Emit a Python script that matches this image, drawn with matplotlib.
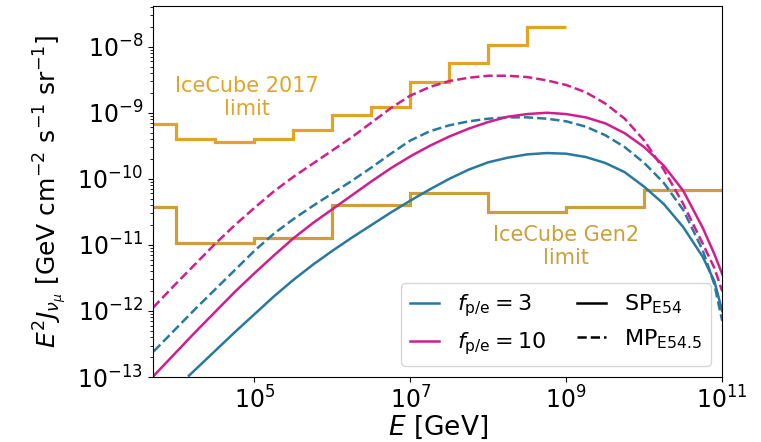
import numpy as np
import matplotlib
matplotlib.use("Agg")
import matplotlib.pyplot as plt
from matplotlib.lines import Line2D
from matplotlib.ticker import FixedLocator, NullLocator

# IceCube limits (step functions), bin edges in GeV
ic2017_edges = 10 ** np.arange(3.5, 9.01, 0.5)
ic2017_vals = [6.8e-10, 4.0e-10, 3.55e-10, 4.0e-10, 5.5e-10, 9.2e-10,
               1.23e-9, 2.9e-9, 5.6e-9, 1.07e-8, 2.0e-8]

gen2_edges = [1e3, 1e4, 1e5, 1e6, 1e7, 1e8, 1e9, 1e10, 1e12]
gen2_vals = [3.7e-11, 1.08e-11, 1.26e-11, 4.0e-11, 6.2e-11, 3.1e-11, 3.7e-11, 6.8e-11]

# model curves as (log10 E, log10 E^2 J)
f3_sp_logE = [4.16, 4.25, 4.5, 4.75, 5.0, 5.25, 5.5, 5.75, 6.0, 6.25, 6.5, 6.75, 7.0, 7.25, 7.5, 7.75,
              8.0, 8.25, 8.5, 8.75, 9.0, 9.25, 9.5, 9.75, 10.0, 10.25, 10.5, 10.75, 10.9, 11.0]
f3_sp_logJ = [-12.98, -12.88, -12.60, -12.32, -12.05, -11.78, -11.53, -11.30, -11.09, -10.89, -10.70,
              -10.51, -10.33, -10.16, -10.00, -9.86, -9.75, -9.68, -9.63, -9.61, -9.62, -9.67, -9.76,
              -9.90, -10.12, -10.38, -10.73, -11.18, -11.55, -12.0]

f3_mp_logE = [3.71, 4.0, 4.25, 4.5, 4.75, 5.0, 5.25, 5.5, 5.75, 6.0, 6.25, 6.5, 6.75, 7.0, 7.25, 7.5, 7.75,
              8.0, 8.25, 8.5, 8.75, 9.0, 9.25, 9.5, 9.75, 10.0, 10.25, 10.5, 10.75, 10.9, 11.0]
f3_mp_logJ = [-12.61, -12.26, -11.96, -11.67, -11.38, -11.09, -10.83, -10.61, -10.41, -10.22, -10.03,
              -9.83, -9.62, -9.42, -9.28, -9.19, -9.13, -9.09, -9.07, -9.07, -9.09, -9.13, -9.21, -9.34,
              -9.52, -9.76, -10.06, -10.47, -11.08, -11.6, -12.15]

f10_sp_logE = [3.71, 4.0, 4.25, 4.5, 4.75, 5.0, 5.25, 5.5, 5.75, 6.0, 6.25, 6.5, 6.75, 7.0, 7.25, 7.5, 7.75,
               8.0, 8.25, 8.5, 8.75, 9.0, 9.25, 9.5, 9.75, 10.0, 10.25, 10.5, 10.75, 10.9, 11.0]
f10_sp_logJ = [-12.98, -12.62, -12.31, -12.01, -11.71, -11.43, -11.16, -10.90, -10.67, -10.46, -10.25,
               -10.04, -9.84, -9.66, -9.50, -9.36, -9.24, -9.14, -9.06, -9.02, -9.00, -9.02, -9.07,
               -9.16, -9.31, -9.52, -9.80, -10.18, -10.74, -11.14, -11.44]

f10_mp_logE = [3.70, 4.0, 4.25, 4.5, 4.75, 5.0, 5.25, 5.5, 5.75, 6.0, 6.25, 6.5, 6.75, 7.0, 7.25, 7.5, 7.75,
               8.0, 8.25, 8.5, 8.75, 9.0, 9.25, 9.5, 9.75, 10.0, 10.25, 10.5, 10.75, 10.9, 11.0]
f10_mp_logJ = [-11.95, -11.58, -11.28, -10.98, -10.70, -10.44, -10.19, -9.97, -9.77, -9.57, -9.37,
               -9.15, -8.93, -8.74, -8.61, -8.52, -8.47, -8.44, -8.44, -8.46, -8.51, -8.58, -8.69,
               -8.86, -9.09, -9.42, -9.86, -10.38, -10.98, -11.35, -11.70]

xticks = [1e5, 1e7, 1e9, 1e11]
yticks = [1e-13, 1e-12, 1e-11, 1e-10, 1e-9, 1e-8]

c_blue = '#2878A0'
c_mag = '#D01E8C'
c_2017 = '#E0A526'
c_gen2 = '#CB9F3B'

fig, ax = plt.subplots(figsize=(7.61, 4.42), dpi=100)
fig.subplots_adjust(left=0.201, right=0.949, top=0.986, bottom=0.147)

ax.stairs(ic2017_vals, ic2017_edges, baseline=None, color=c_2017, lw=2.3)
ax.stairs(gen2_vals, gen2_edges, baseline=None, color=c_gen2, lw=2.3)

ax.plot(10 ** np.array(f3_sp_logE), 10 ** np.array(f3_sp_logJ), color=c_blue, lw=1.8)
ax.plot(10 ** np.array(f3_mp_logE), 10 ** np.array(f3_mp_logJ), color=c_blue, lw=1.8, ls='--')
ax.plot(10 ** np.array(f10_sp_logE), 10 ** np.array(f10_sp_logJ), color=c_mag, lw=1.8)
ax.plot(10 ** np.array(f10_mp_logE), 10 ** np.array(f10_mp_logJ), color=c_mag, lw=1.8, ls='--')

ax.text(10 ** 4.90, 10 ** -8.77, 'IceCube 2017\nlimit', color=c_2017, fontsize=15,
        ha='center', va='center', multialignment='center')
ax.text(10 ** 9.0, 10 ** -11.02, 'IceCube Gen2\nlimit', color=c_gen2, fontsize=15,
        ha='center', va='center', multialignment='center')

ax.set_xscale('log')
ax.set_yscale('log')
ax.set_xlim(5e3, 1e11)
ax.set_ylim(1e-13, 4.1e-8)
ax.set_xticks(xticks)
ax.set_yticks(yticks)
ax.xaxis.set_minor_locator(NullLocator())
minor_y = [m * 10.0 ** k for k in range(-13, -7) for m in range(2, 10)]
ax.yaxis.set_minor_locator(FixedLocator(minor_y))
ax.tick_params(labelsize=17)

ax.set_xlabel(r'$E$ [GeV]', fontsize=19, labelpad=0)
ax.set_ylabel(r'$E^2 J_{\nu_\mu}$ [GeV cm$^{-2}$ s$^{-1}$ sr$^{-1}$]', fontsize=18, labelpad=6)

handles = [
    Line2D([], [], color=c_blue, lw=1.8),
    Line2D([], [], color=c_mag, lw=1.8),
    Line2D([], [], color='k', lw=1.8),
    Line2D([], [], color='k', lw=1.8, ls='--'),
]
labels = [r'$f_{\rm p/e} = 3$', r'$f_{\rm p/e} = 10$', r'SP$_{\rm E54}$', r'MP$_{\rm E54.5}$']
ax.legend(handles, labels, ncol=2, loc='lower right', fontsize=16,
          handlelength=1.3, handletextpad=0.8, columnspacing=1.4, borderpad=0.4)

fig.savefig('out.png', dpi=100)
